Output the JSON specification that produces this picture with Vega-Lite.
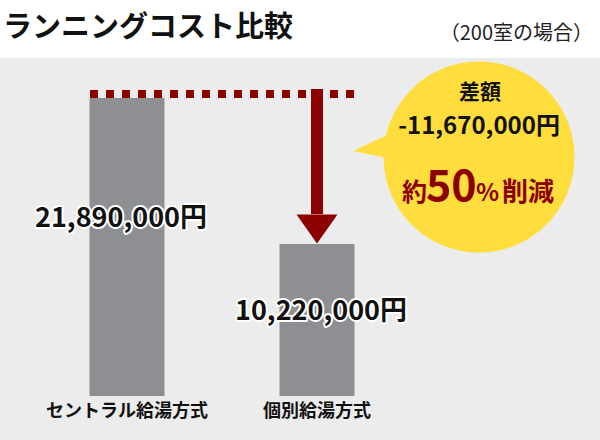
{
  "$schema": "https://vega.github.io/schema/vega-lite/v6.json",
  "width": 600,
  "height": 382,
  "autosize": {"type": "none"},
  "padding": {"top": 58, "left": 0, "right": 0, "bottom": 0},
  "background": "#ffffff",
  "view": {"fill": "#ececec", "stroke": null},
  "config": {"font": "Noto Sans CJK JP"},
  "data": {
    "values": [
      {"方式": "セントラル給湯方式", "コスト": 21890000, "label": "21,890,000円"},
      {"方式": "個別給湯方式", "コスト": 10220000, "label": "10,220,000円"}
    ]
  },
  "layer": [
    {
      "mark": {"type": "bar", "width": 75, "color": "#8e8f93"},
      "encoding": {
        "x": {
          "field": "方式",
          "type": "nominal",
          "sort": null,
          "scale": {
            "type": "band",
            "domain": ["セントラル給湯方式", "個別給湯方式", "差額"],
            "range": [32, 602],
            "paddingInner": 0,
            "paddingOuter": 0
          },
          "axis": {
            "title": null,
            "orient": "bottom",
            "offset": -44,
            "domain": false,
            "ticks": false,
            "tickSize": 0,
            "grid": false,
            "labelAngle": 0,
            "labelPadding": 6,
            "labelFontSize": 18,
            "labelFontWeight": "bold",
            "labelColor": "#111111",
            "labelLimit": 0,
            "labelExpr": "datum.label == '差額' ? '' : datum.label"
          }
        },
        "y": {
          "field": "コスト",
          "type": "quantitative",
          "scale": {"type": "pow", "exponent": 0.884, "domain": [0, 25240000], "nice": false, "zero": true, "range": [338, 0]},
          "axis": null
        },
        "y2": {"datum": 0}
      }
    },
    {
      "transform": [{"filter": "datum['方式'] === 'セントラル給湯方式'"}],
      "mark": {"type": "rule", "color": "#8b0000", "strokeWidth": 8, "strokeDash": [8, 8], "strokeCap": "butt", "xOffset": -37, "x2Offset": 37, "yOffset": -4},
      "encoding": {
        "x": {"datum": "セントラル給湯方式", "type": "nominal"},
        "x2": {"datum": "個別給湯方式"},
        "y": {"field": "コスト", "type": "quantitative"}
      }
    },
    {
      "transform": [{"filter": "datum['方式'] === '個別給湯方式'"}],
      "mark": {"type": "rule", "color": "#8b0000", "strokeWidth": 12, "strokeCap": "butt", "yOffset": -30, "y2Offset": -9},
      "encoding": {
        "x": {"field": "方式", "type": "nominal"},
        "y": {"field": "コスト", "type": "quantitative"},
        "y2": {"datum": 21890000}
      }
    },
    {
      "transform": [{"filter": "datum['方式'] === '個別給湯方式'"}],
      "mark": {"type": "point", "shape": "M-1,-0.707L1,-0.707L0,0.707Z", "size": 1681, "filled": true, "color": "#8b0000", "opacity": 1, "strokeWidth": 0, "yOffset": -15},
      "encoding": {
        "x": {"field": "方式", "type": "nominal"},
        "y": {"field": "コスト", "type": "quantitative"}
      }
    },
    {
      "transform": [{"filter": "datum['方式'] === 'セントラル給湯方式'"}],
      "layer": [
        {
          "mark": {"type": "point", "shape": "M-1.319,-0.063L-0.827,-0.293L-0.827,0.036Z", "size": 36481, "filled": true, "color": "#fedd3c", "opacity": 1, "strokeWidth": 0, "xOffset": -28, "yOffset": 59}
        },
        {
          "mark": {"type": "point", "shape": "circle", "size": 36481, "filled": true, "color": "#fedd3c", "opacity": 1, "strokeWidth": 0, "xOffset": -28, "yOffset": 59}
        },
        {
          "mark": {"type": "text", "text": "差額", "fontSize": 21, "fontWeight": "bold", "color": "#111111", "baseline": "middle", "dx": -27, "dy": -5}
        },
        {
          "mark": {"type": "text", "text": "-11,670,000円", "fontSize": 24, "fontWeight": "bold", "color": "#111111", "baseline": "middle", "dx": -28, "dy": 29}
        },
        {
          "mark": {"type": "text", "text": "約", "fontSize": 25, "fontWeight": "bold", "color": "#8b0000", "align": "right", "baseline": "alphabetic", "dx": -80, "dy": 103}
        },
        {
          "mark": {"type": "text", "text": "50", "fontSize": 43, "fontWeight": "bold", "color": "#8b0000", "align": "left", "baseline": "alphabetic", "dx": -81, "dy": 103}
        },
        {
          "mark": {"type": "text", "text": "%", "fontSize": 24, "fontWeight": "bold", "color": "#8b0000", "align": "left", "baseline": "alphabetic", "dx": -31, "dy": 103}
        },
        {
          "mark": {"type": "text", "text": "削減", "fontSize": 26, "fontWeight": "bold", "color": "#8b0000", "align": "left", "baseline": "alphabetic", "dx": -5, "dy": 103}
        }
      ],
      "encoding": {
        "x": {"datum": "差額", "type": "nominal"},
        "y": {"field": "コスト", "type": "quantitative"}
      }
    },
    {
      "transform": [{"filter": "datum['方式'] === 'セントラル給湯方式'"}],
      "layer": [
        {"mark": {"type": "text", "fontSize": 27, "fontWeight": "bold", "color": "#ffffff", "stroke": "#ffffff", "strokeWidth": 4, "strokeJoin": "round", "baseline": "middle", "dx": -6, "dy": 121}},
        {"mark": {"type": "text", "fontSize": 27, "fontWeight": "bold", "color": "#111111", "baseline": "middle", "dx": -6, "dy": 121}}
      ],
      "encoding": {
        "x": {"field": "方式", "type": "nominal"},
        "y": {"field": "コスト", "type": "quantitative"},
        "text": {"field": "label"}
      }
    },
    {
      "transform": [{"filter": "datum['方式'] === '個別給湯方式'"}],
      "layer": [
        {"mark": {"type": "text", "fontSize": 27, "fontWeight": "bold", "color": "#ffffff", "stroke": "#ffffff", "strokeWidth": 4, "strokeJoin": "round", "baseline": "middle", "dx": 4, "dy": 68}},
        {"mark": {"type": "text", "fontSize": 27, "fontWeight": "bold", "color": "#111111", "baseline": "middle", "dx": 4, "dy": 68}}
      ],
      "encoding": {
        "x": {"field": "方式", "type": "nominal"},
        "y": {"field": "コスト", "type": "quantitative"},
        "text": {"field": "label"}
      }
    },
    {
      "transform": [{"filter": "datum['方式'] === 'セントラル給湯方式'"}],
      "layer": [
        {
          "mark": {"type": "text", "text": "ランニングコスト比較", "fontSize": 29, "fontWeight": "bold", "color": "#111111", "align": "left", "baseline": "alphabetic", "dx": -124, "dy": -21},
          "encoding": {"x": {"datum": "セントラル給湯方式", "type": "nominal"}}
        },
        {
          "mark": {"type": "text", "text": "（200室の場合）", "fontSize": 20, "color": "#222222", "align": "right", "baseline": "alphabetic", "dx": 86, "dy": -18},
          "encoding": {"x": {"datum": "差額", "type": "nominal"}}
        }
      ],
      "encoding": {
        "y": {"datum": 25240000, "type": "quantitative"}
      }
    }
  ]
}
